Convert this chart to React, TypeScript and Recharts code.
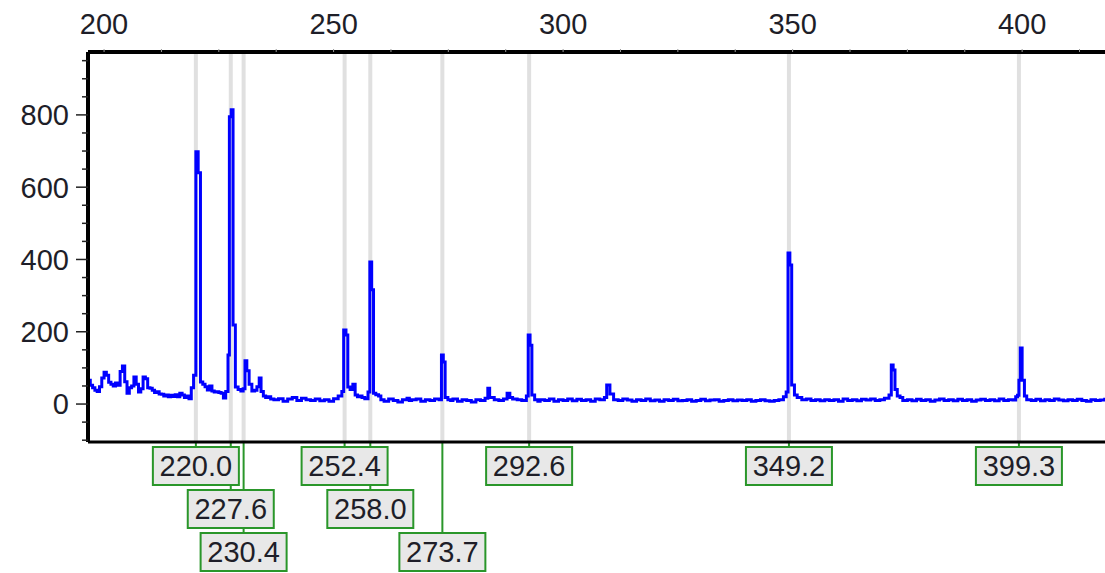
import React from 'react';
import { LineChart, Line, XAxis, YAxis, ReferenceLine } from 'recharts';

// spectrum: wavelength (x) and intensity (y)
const wavelengths = [
  196.5, 197.0, 197.5, 198.0, 198.5, 199.0, 199.5, 200.0, 200.5, 201.0, 201.5, 202.0, 202.5, 203.0, 203.5, 204.0, 204.5,
  205.0, 205.5, 206.0, 206.5, 207.0, 207.5, 208.0, 208.5, 209.0, 209.5, 210.0, 210.5, 211.0, 211.5, 212.0, 212.5, 213.0,
  213.5, 214.0, 214.5, 215.0, 215.5, 216.0, 216.5, 217.0, 217.5, 218.0, 218.5, 219.0, 219.5, 220.0, 220.5, 221.0, 221.5,
  222.0, 222.5, 223.0, 223.5, 224.0, 224.5, 225.0, 225.5, 226.0, 226.5, 227.0, 227.3, 227.7, 228.1, 228.6, 229.2, 229.8,
  230.3, 230.7, 231.1, 231.6, 232.2, 232.8, 233.3, 233.8, 234.2, 234.7, 235.2, 235.8, 236.3, 237.0, 238.0, 239.0, 240.0,
  241.0, 242.0, 243.0, 244.0, 245.0, 246.0, 247.0, 248.0, 249.0, 250.0, 251.0, 251.8, 252.2, 252.7, 253.1, 253.6, 254.2,
  254.7, 255.2, 255.7, 256.2, 256.8, 257.5, 257.9, 258.3, 258.7, 259.2, 259.8, 260.3, 261.0, 262.0, 263.0, 264.0, 265.0,
  266.0, 266.5, 267.0, 268.0, 269.0, 270.0, 271.0, 272.0, 273.0, 273.5, 273.9, 274.3, 274.9, 275.5, 276.0, 277.0, 278.0,
  279.0, 280.0, 281.0, 282.0, 283.0, 283.6, 284.0, 285.0, 286.0, 287.0, 287.8, 288.4, 289.0, 290.0, 291.0, 292.0, 292.4,
  292.8, 293.2, 293.8, 294.5, 295.0, 296.0, 297.0, 298.0, 299.0, 300.0, 301.0, 302.0, 303.0, 304.0, 305.0, 306.0, 307.0,
  308.0, 309.0, 309.5, 310.2, 311.0, 312.0, 313.0, 314.0, 315.0, 316.0, 317.0, 318.0, 319.0, 320.0, 321.0, 322.0, 323.0,
  324.0, 325.0, 326.0, 327.0, 328.0, 329.0, 330.0, 331.0, 332.0, 333.0, 334.0, 335.0, 336.0, 337.0, 338.0, 339.0, 340.0,
  341.0, 342.0, 343.0, 344.0, 345.0, 346.0, 347.0, 348.0, 348.6, 349.0, 349.4, 349.8, 350.4, 351.0, 352.0, 353.0, 354.0,
  355.0, 356.0, 357.0, 358.0, 359.0, 360.0, 361.0, 362.0, 363.0, 364.0, 365.0, 366.0, 367.0, 368.0, 369.0, 370.0, 371.0,
  371.5, 371.9, 372.3, 372.8, 373.4, 374.0, 375.0, 376.0, 377.0, 378.0, 379.0, 380.0, 381.0, 382.0, 383.0, 384.0, 385.0,
  386.0, 387.0, 388.0, 389.0, 390.0, 391.0, 392.0, 393.0, 394.0, 395.0, 396.0, 397.0, 398.0, 398.6, 399.0, 399.3, 399.6,
  400.0, 400.5, 401.0, 402.0, 403.0, 404.0, 405.0, 406.0, 407.0, 408.0, 409.0, 410.0, 411.0, 412.0, 413.0, 414.0, 415.0,
  416.0, 417.0, 418.0, 419.0, 420.0, 421.0, 422.0, 423.0, 424.0,
];
const intensities = [
  66, 52, 45, 38, 35, 48, 72, 88, 80, 60, 55, 50, 58, 52, 90, 105, 62,
  30, 45, 50, 75, 55, 33, 42, 75, 70, 45, 44, 38, 32, 34, 28, 27, 22,
  25, 20, 24, 21, 26, 20, 30, 25, 18, 22, 15, 45, 80, 698, 640, 61, 55,
  48, 39, 50, 36, 33, 34, 32, 30, 17, 35, 136, 795, 814, 219, 47, 40, 36,
  42, 120, 92, 55, 36, 38, 48, 72, 35, 22, 18, 20, 14, 12, 15, 8, 14,
  18, 10, 16, 12, 10, 14, 9, 12, 8, 15, 22, 35, 205, 191, 47, 40, 55,
  25, 20, 22, 18, 15, 33, 393, 316, 30, 26, 22, 12, 8, 14, 10, 6, 12,
  16, 10, 12, 14, 8, 12, 10, 14, 12, 136, 116, 18, 12, 10, 14, 8, 12,
  10, 6, 12, 10, 16, 44, 18, 12, 10, 14, 30, 18, 14, 12, 10, 22, 191,
  163, 25, 12, 8, 12, 10, 14, 8, 12, 10, 14, 9, 13, 10, 12, 8, 14,
  12, 18, 53, 28, 12, 10, 14, 11, 8, 12, 10, 14, 9, 11, 8, 12, 10,
  13, 9, 10, 12, 8, 10, 13, 9, 11, 12, 8, 10, 12, 9, 11, 10, 12,
  8, 10, 12, 9, 8, 10, 12, 20, 33, 418, 385, 53, 25, 18, 12, 14, 10,
  12, 9, 12, 10, 12, 8, 14, 10, 12, 9, 13, 11, 14, 10, 12, 16, 25,
  108, 94, 40, 22, 18, 10, 12, 9, 13, 10, 12, 8, 11, 14, 10, 12, 9,
  13, 10, 12, 8, 11, 13, 10, 12, 9, 14, 10, 12, 11, 20, 24, 66, 155,
  66, 22, 12, 10, 13, 9, 12, 10, 14, 11, 9, 12, 10, 13, 10, 8, 12,
  10, 11, 13, 10, 12, 9, 11, 10, 12,
];

const peakPositions = [220.0, 227.6, 230.4, 252.4, 258.0, 273.7, 292.6, 349.2, 399.3];
const peakLabels = ['220.0', '227.6', '230.4', '252.4', '258.0', '273.7', '292.6', '349.2', '399.3'];
const peakRows = [0, 1, 2, 0, 1, 2, 0, 0, 0];

const xTicks = [200, 212.5, 225, 237.5, 250, 262.5, 275, 287.5, 300, 312.5, 325, 337.5, 350, 362.5, 375, 387.5, 400, 412.5];
const xLabelTicks = [200, 250, 300, 350, 400];
const yTicks = [-100, -50, 0, 50, 100, 150, 200, 250, 300, 350, 400, 450, 500, 550, 600, 650, 700, 750, 800, 850, 900, 950];
const yLabelTicks = [0, 200, 400, 600, 800];

const data = wavelengths.map((w, i) => ({ w, v: intensities[i] }));

const FONT = '"Liberation Sans", Arial, sans-serif';
const TEXT = '#1e1e28';
const GREEN = '#2a962a';

const TopTick = (props: any) => {
  const { x, y, payload } = props;
  if (!xLabelTicks.includes(payload.value)) return null;
  return (
    <text x={x} y={y - 15} textAnchor="middle" fontFamily={FONT} fontSize={29} fill={TEXT}>
      {payload.value}
    </text>
  );
};

const LeftTick = (props: any) => {
  const { x, y, payload } = props;
  const major = yLabelTicks.includes(payload.value);
  return (
    <g>
      <line x1={x - (major ? 12 : 6)} x2={x} y1={y} y2={y} stroke="#222" strokeWidth={1.5} />
      {major && (
        <text x={x - 19} y={y} dy="0.36em" textAnchor="end" fontFamily={FONT} fontSize={29} fill={TEXT}>
          {payload.value}
        </text>
      )}
    </g>
  );
};

const Connector = (props: any) => {
  const { viewBox, row } = props;
  if (!viewBox) return null;
  const x = viewBox.x;
  const bottom = viewBox.y + viewBox.height;
  return <line x1={x} x2={x} y1={bottom} y2={bottom + 5 + row * 43} stroke={GREEN} strokeWidth={2} />;
};

const Box = (props: any) => {
  const { viewBox, row, text } = props;
  if (!viewBox) return null;
  const x = viewBox.x;
  const top = viewBox.y + viewBox.height + 5 + row * 43;
  return (
    <g>
      <rect x={x - 43} y={top} width={86} height={38} fill="#e8e8e8" stroke={GREEN} strokeWidth={2} />
      <text x={x} y={top + 19} dy="0.36em" textAnchor="middle" fontFamily={FONT} fontSize={29} fill={TEXT}>
        {text}
      </text>
    </g>
  );
};

export default function App() {
  return (
    <div style={{ position: 'absolute', left: 0, top: 0, width: 1105, height: 573, overflow: 'hidden', background: '#fff' }}>
      <LineChart width={1130} height={573} data={data} margin={{ top: 0, right: 0, bottom: 131, left: 0 }}>
        <XAxis
          dataKey="w"
          type="number"
          orientation="top"
          domain={[196.5, 423.5]}
          allowDataOverflow
          ticks={xTicks}
          height={52}
          axisLine={{ stroke: '#000', strokeWidth: 4 }}
          tickLine={{ stroke: '#999', strokeWidth: 1 }}
          tickSize={3}
          tickMargin={0}
          tick={<TopTick />}
          interval={0}
        />
        <YAxis
          type="number"
          domain={[-105, 974]}
          allowDataOverflow
          ticks={yTicks}
          width={88}
          axisLine={{ stroke: '#000', strokeWidth: 4 }}
          tickLine={false}
          tickSize={0}
          tickMargin={0}
          tick={<LeftTick />}
          interval={0}
        />
        {peakPositions.map((p, i) => (
          <ReferenceLine
            key={'g' + i}
            x={p}
            stroke="#e0e0e0"
            strokeWidth={4}
            label={(lp: any) => <Connector {...lp} row={peakRows[i]} />}
          />
        ))}
        {peakPositions.map((p, i) => (
          <ReferenceLine
            key={'b' + i}
            x={p}
            stroke="none"
            strokeWidth={0}
            label={(lp: any) => <Box {...lp} row={peakRows[i]} text={peakLabels[i]} />}
          />
        ))}
        <ReferenceLine y={-105} stroke="#000" strokeWidth={3} ifOverflow="visible" />
        <Line
          type="stepAfter"
          dataKey="v"
          stroke="#0000ff"
          strokeWidth={3}
          dot={false}
          isAnimationActive={false}
        />
      </LineChart>
    </div>
  );
}
